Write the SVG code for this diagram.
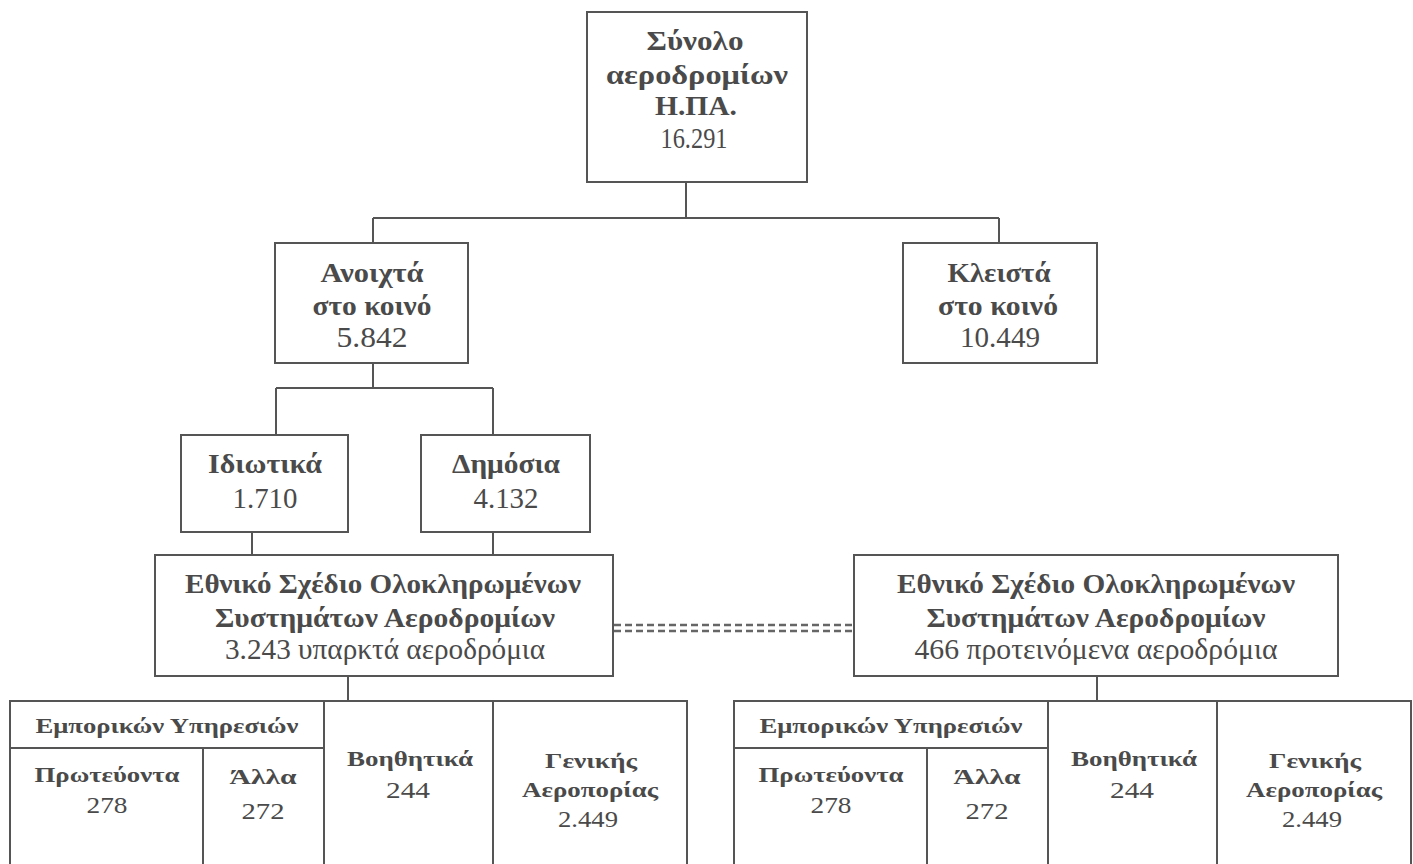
<svg xmlns="http://www.w3.org/2000/svg" width="1413" height="864" viewBox="0 0 1413 864">
<style>
.box{fill:#fff;stroke:#555;stroke-width:2}
.ln{stroke:#555;stroke-width:2;fill:none}
.dl{stroke:#666;stroke-width:2.5;stroke-dasharray:7 4;fill:none}
text{font-family:"Liberation Serif","Times New Roman",serif;fill:#4a4a4a;text-anchor:middle}
.b{font-weight:bold;font-size:27px}
.n{font-size:29px}
.sb{font-weight:bold;font-size:21px}
.sn{font-size:24px}
</style>
<rect width="1413" height="864" fill="#fff"/>
<g id="connectors">
<path class="ln" d="M686 182V218M373 218H999M373 218V243M999 218V243"/>
<path class="ln" d="M373 363V388M276 388H493M276 388V435M493 388V435"/>
<path class="ln" d="M252 532V555M493 532V555"/>
<path class="ln" d="M348 676V701M1097 676V701"/>
<path class="dl" d="M614 625H853M614 631H853"/>
</g>
<g id="n-total">
<rect class="box" x="587" y="12" width="220" height="170"/>
<text class="b" x="695" y="50" textLength="97" lengthAdjust="spacingAndGlyphs">Σύνολο</text>
<text class="b" x="697" y="84" textLength="182" lengthAdjust="spacingAndGlyphs">αεροδρομίων</text>
<text class="b" x="696" y="115" textLength="82" lengthAdjust="spacingAndGlyphs">Η.ΠΑ.</text>
<text class="n" x="694" y="148" textLength="67" lengthAdjust="spacingAndGlyphs">16.291</text>
</g>
<g id="n-open">
<rect class="box" x="275" y="243" width="193" height="120"/>
<text class="b" x="372" y="282" textLength="103" lengthAdjust="spacingAndGlyphs">Ανοιχτά</text>
<text class="b" x="372" y="315" textLength="119" lengthAdjust="spacingAndGlyphs">στο κοινό</text>
<text class="n" x="372" y="347" textLength="71" lengthAdjust="spacingAndGlyphs">5.842</text>
</g>
<g id="n-closed">
<rect class="box" x="903" y="243" width="194" height="120"/>
<text class="b" x="999" y="282" textLength="103" lengthAdjust="spacingAndGlyphs">Κλειστά</text>
<text class="b" x="998" y="315" textLength="120" lengthAdjust="spacingAndGlyphs">στο κοινό</text>
<text class="n" x="1000" y="347" textLength="80" lengthAdjust="spacingAndGlyphs">10.449</text>
</g>
<g id="n-private">
<rect class="box" x="181" y="435" width="167" height="97"/>
<text class="b" x="265" y="473" textLength="114" lengthAdjust="spacingAndGlyphs">Ιδιωτικά</text>
<text class="n" x="265" y="508" textLength="65" lengthAdjust="spacingAndGlyphs">1.710</text>
</g>
<g id="n-public">
<rect class="box" x="421" y="435" width="169" height="97"/>
<text class="b" x="506" y="473" textLength="108" lengthAdjust="spacingAndGlyphs">Δημόσια</text>
<text class="n" x="506" y="508" textLength="65" lengthAdjust="spacingAndGlyphs">4.132</text>
</g>
<g id="n-npias-existing">
<rect class="box" x="155" y="555" width="458" height="121"/>
<text class="b" x="383" y="593" textLength="396" lengthAdjust="spacingAndGlyphs">Εθνικό Σχέδιο Ολοκληρωμένων</text>
<text class="b" x="385" y="627" textLength="340" lengthAdjust="spacingAndGlyphs">Συστημάτων Αεροδρομίων</text>
<text class="n" x="385" y="659" textLength="320" lengthAdjust="spacingAndGlyphs">3.243 υπαρκτά αεροδρόμια</text>
</g>
<g id="n-npias-proposed">
<rect class="box" x="854" y="555" width="484" height="121"/>
<text class="b" x="1096" y="593" textLength="398" lengthAdjust="spacingAndGlyphs">Εθνικό Σχέδιο Ολοκληρωμένων</text>
<text class="b" x="1096" y="627" textLength="339" lengthAdjust="spacingAndGlyphs">Συστημάτων Αεροδρομίων</text>
<text class="n" x="1096" y="659" textLength="363" lengthAdjust="spacingAndGlyphs">466 προτεινόμενα αεροδρόμια</text>
</g>
<g id="t-left">
<rect class="box" x="10" y="701" width="314" height="170"/>
<line class="ln" x1="10" y1="748" x2="324" y2="748"/>
<line class="ln" x1="203" y1="748" x2="203" y2="871"/>
<text class="sb" x="167" y="733" textLength="263" lengthAdjust="spacingAndGlyphs">Εμπορικών Υπηρεσιών</text>
<text class="sb" x="107" y="782" textLength="145" lengthAdjust="spacingAndGlyphs">Πρωτεύοντα</text>
<text class="sn" x="107" y="813" textLength="41" lengthAdjust="spacingAndGlyphs">278</text>
<text class="sb" x="263" y="784" textLength="67" lengthAdjust="spacingAndGlyphs">Άλλα</text>
<text class="sn" x="263" y="819" textLength="43" lengthAdjust="spacingAndGlyphs">272</text>
<rect class="box" x="324" y="701" width="169" height="170"/>
<text class="sb" x="410" y="766" textLength="126" lengthAdjust="spacingAndGlyphs">Βοηθητικά</text>
<text class="sn" x="408" y="798" textLength="44" lengthAdjust="spacingAndGlyphs">244</text>
<rect class="box" x="493" y="701" width="194" height="170"/>
<text class="sb" x="591" y="768" textLength="92" lengthAdjust="spacingAndGlyphs">Γενικής</text>
<text class="sb" x="590" y="797" textLength="136" lengthAdjust="spacingAndGlyphs">Αεροπορίας</text>
<text class="sn" x="588" y="827" textLength="60" lengthAdjust="spacingAndGlyphs">2.449</text>
</g>
<g id="t-right" transform="translate(724 0)">
<rect class="box" x="10" y="701" width="314" height="170"/>
<line class="ln" x1="10" y1="748" x2="324" y2="748"/>
<line class="ln" x1="203" y1="748" x2="203" y2="871"/>
<text class="sb" x="167" y="733" textLength="263" lengthAdjust="spacingAndGlyphs">Εμπορικών Υπηρεσιών</text>
<text class="sb" x="107" y="782" textLength="145" lengthAdjust="spacingAndGlyphs">Πρωτεύοντα</text>
<text class="sn" x="107" y="813" textLength="41" lengthAdjust="spacingAndGlyphs">278</text>
<text class="sb" x="263" y="784" textLength="67" lengthAdjust="spacingAndGlyphs">Άλλα</text>
<text class="sn" x="263" y="819" textLength="43" lengthAdjust="spacingAndGlyphs">272</text>
<rect class="box" x="324" y="701" width="169" height="170"/>
<text class="sb" x="410" y="766" textLength="126" lengthAdjust="spacingAndGlyphs">Βοηθητικά</text>
<text class="sn" x="408" y="798" textLength="44" lengthAdjust="spacingAndGlyphs">244</text>
<rect class="box" x="493" y="701" width="194" height="170"/>
<text class="sb" x="591" y="768" textLength="92" lengthAdjust="spacingAndGlyphs">Γενικής</text>
<text class="sb" x="590" y="797" textLength="136" lengthAdjust="spacingAndGlyphs">Αεροπορίας</text>
<text class="sn" x="588" y="827" textLength="60" lengthAdjust="spacingAndGlyphs">2.449</text>
</g>
</svg>
